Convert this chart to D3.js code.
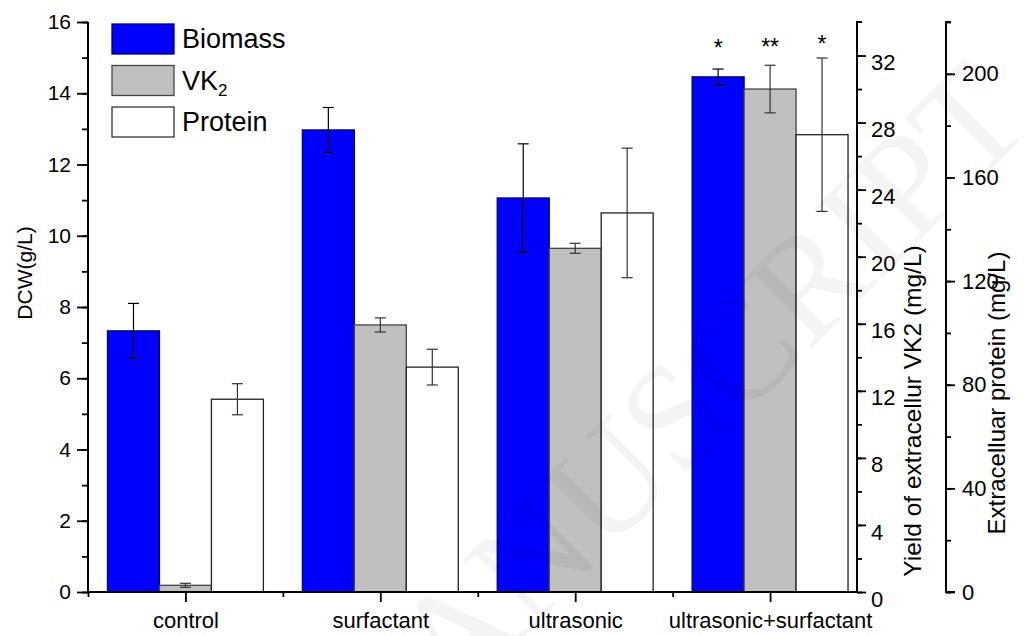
<!DOCTYPE html>
<html><head><meta charset="utf-8">
<script src="https://cdn.jsdelivr.net/npm/d3@7"></script>
<style>body{margin:0;background:#fff}svg{display:block}text{font-family:"Liberation Sans",Arial,sans-serif}</style>
</head><body><svg id="c" width="1028" height="636"></svg>
<script>
const categories = ["control","surfactant","ultrasonic","ultrasonic+surfactant"];
const biomass    = [7.33, 12.97, 11.06, 14.46];
const biomassErr = [0.77, 0.63, 1.52, 0.22];
const vk2        = [0.4, 15.93, 20.5, 30.0];
const vk2Err     = [0.12, 0.42, 0.3, 1.42];
const protein    = [74.4, 86.8, 146.3, 176.5];
const proteinErr = [6.0, 6.9, 25.0, 29.6];
const leftTicks  = [0,2,4,6,8,10,12,14,16];
const vkTicks    = [0,4,8,12,16,20,24,28,32];
const protTicks  = [0,40,80,120,160,200];
const stars = [{cat:3, series:0, label:"*", y:15.42},{cat:3, series:1, label:"**", y:15.45},{cat:3, series:2, label:"*", y:15.53}];

const svg = d3.select("#c");
const yTop = 22, yBot = 592, xLeft = 88, xRight = 857;
const x = d3.scaleLinear().domain([0.5, 4.446]).range([xLeft, xRight]);
const yL = d3.scaleLinear().domain([0,16]).range([yBot, yTop]);
const yV = d3.scaleLinear().domain([0,34]).range([yBot, yTop]);
const yP = d3.scaleLinear().domain([0,220]).range([yBot, yTop]);
const bw = 0.8/3;

const series = [
  {vals:biomass, err:biomassErr, y:yL, fill:"#0000ff", stroke:"#00006e", ecol:"#000"},
  {vals:vk2, err:vk2Err, y:yV, fill:"#c0c0c0", stroke:"#444", ecol:"#333"},
  {vals:protein, err:proteinErr, y:yP, fill:"#ffffff", stroke:"#222", ecol:"#333"}
];
series.forEach((s, si) => {
  const g = svg.append("g");
  const data = categories.map((c,i)=>({i, v:s.vals[i], e:s.err[i]}));
  const bx = d => x(d.i + 1 + (si-1)*bw - bw/2);
  g.selectAll("rect").data(data).join("rect")
    .attr("x", bx).attr("width", x(bw) - x(0))
    .attr("y", d=>s.y(d.v)).attr("height", d=>yBot - s.y(d.v))
    .attr("fill", s.fill).attr("stroke", s.stroke).attr("stroke-width",1.3);
  const cx = d => x(d.i + 1 + (si-1)*bw);
  g.selectAll("line.e").data(data).join("line").attr("class","e")
    .attr("x1",cx).attr("x2",cx).attr("y1",d=>s.y(d.v+d.e)).attr("y2",d=>s.y(d.v-d.e))
    .attr("stroke",s.ecol).attr("stroke-width",1.2);
  [1,-1].forEach(sg=>{
    g.selectAll("line.c"+(sg>0?"p":"m")).data(data).join("line").attr("class","c"+(sg>0?"p":"m"))
      .attr("x1",d=>cx(d)-5.5).attr("x2",d=>cx(d)+5.5)
      .attr("y1",d=>s.y(d.v+sg*d.e)).attr("y2",d=>s.y(d.v+sg*d.e))
      .attr("stroke",s.ecol).attr("stroke-width",1.2);
  });
});

// watermark (faint)
svg.append("text").attr("transform","translate(1035,125) rotate(-45)")
  .attr("text-anchor","end")
  .attr("font-size",148).attr("fill","#000").attr("opacity",0.04)
  .style("font-family","'Liberation Serif',serif").text("ACCEPTED MANUSCRIPT");

// stars
svg.selectAll("text.star").data(stars).join("text").attr("class","star")
  .attr("x", d=>x(d.cat + 1 + (d.series-1)*bw)).attr("y", d=>yL(d.y)+13)
  .attr("text-anchor","middle").attr("font-size",23).text(d=>d.label);

function style(g, fs){
  g.selectAll(".tick line").attr("stroke","#000").attr("stroke-width",1.8);
  g.selectAll("text").attr("font-size",fs).attr("fill","#000").attr("font-family","Liberation Sans");
}
// left axis
const gl = svg.append("g").attr("transform",`translate(${xLeft},0)`);
gl.call(d3.axisLeft(yL).tickValues(d3.range(0,17,1)).tickSize(6).tickFormat(""));
gl.append("g").call(d3.axisLeft(yL).tickValues(leftTicks).tickSize(11).tickPadding(6).tickFormat(d3.format("d")));
gl.selectAll(".domain").attr("stroke","#000").attr("stroke-width",2).attr("d",`M0,${yTop}V${yBot}`);
style(gl, 21);

// x axis
const gx = svg.append("g").attr("transform",`translate(0,${yBot})`);
gx.call(d3.axisBottom(x).tickValues([0.5,1.5,2.5,3.5]).tickSize(5).tickFormat(""));
gx.append("g").call(d3.axisBottom(x).tickValues([1,2,3,4]).tickSize(10).tickPadding(10).tickFormat(d=>categories[d-1]));
gx.selectAll(".domain").attr("stroke","#000").attr("stroke-width",2).attr("d",`M${xLeft},0H${xRight}`);
style(gx, 22);

// VK2 axis
const gv = svg.append("g").attr("transform",`translate(${xRight},0)`);
gv.call(d3.axisRight(yV).tickValues(d3.range(0,34,2)).tickSize(5).tickFormat(""));
gv.append("g").call(d3.axisRight(yV).tickValues(vkTicks).tickSize(9).tickPadding(5).tickFormat(d3.format("d")));
gv.selectAll(".domain").attr("stroke","#000").attr("stroke-width",2).attr("d",`M5,${yTop}H0V${yBot}`);
style(gv, 22);
gv.selectAll("text").attr("dy","0.64em");

// protein axis
const pxA = 946;
const gp = svg.append("g").attr("transform",`translate(${pxA},0)`);
gp.call(d3.axisRight(yP).tickValues(d3.range(0,221,20)).tickSize(5).tickFormat(""));
gp.append("g").call(d3.axisRight(yP).tickValues(protTicks).tickSize(9).tickPadding(7).tickFormat(d3.format("d")));
gp.selectAll(".domain").attr("stroke","#000").attr("stroke-width",2).attr("d",`M5,${yTop}H0V${yBot}H9`);
style(gp, 22);

// axis titles
svg.append("text").attr("transform",`translate(24,273) rotate(-90)`)
  .attr("text-anchor","middle").attr("dominant-baseline","central").attr("font-size",21).text("DCW(g/L)");
svg.append("text").attr("transform",`translate(912,411) rotate(-90)`)
  .attr("text-anchor","middle").attr("dominant-baseline","central").attr("font-size",24.5).text("Yield of extracellur VK2 (mg/L)");
svg.append("text").attr("transform",`translate(996,393) rotate(-90)`)
  .attr("text-anchor","middle").attr("dominant-baseline","central").attr("font-size",24).text("Extracelluar protein (mg/L)");

// legend
const legendItems = [{name:"Biomass", fill:"#0000ff", stroke:"#00006e"},{name:"VK", sub:"2", fill:"#c0c0c0", stroke:"#444"},{name:"Protein", fill:"#fff", stroke:"#333"}];
const lg = svg.append("g");
legendItems.forEach((d,i)=>{
  const yy = 24 + i*41.5;
  lg.append("rect").attr("x",112).attr("y",yy).attr("width",62).attr("height",30)
    .attr("fill",d.fill).attr("stroke",d.stroke).attr("stroke-width",1.3);
  const t = lg.append("text").attr("x",182).attr("y",yy+15).attr("dominant-baseline","central").attr("font-size",27).text(d.name);
  if (d.sub) t.append("tspan").attr("font-size",17).attr("dy",9).text(d.sub);
});
</script></body></html>
